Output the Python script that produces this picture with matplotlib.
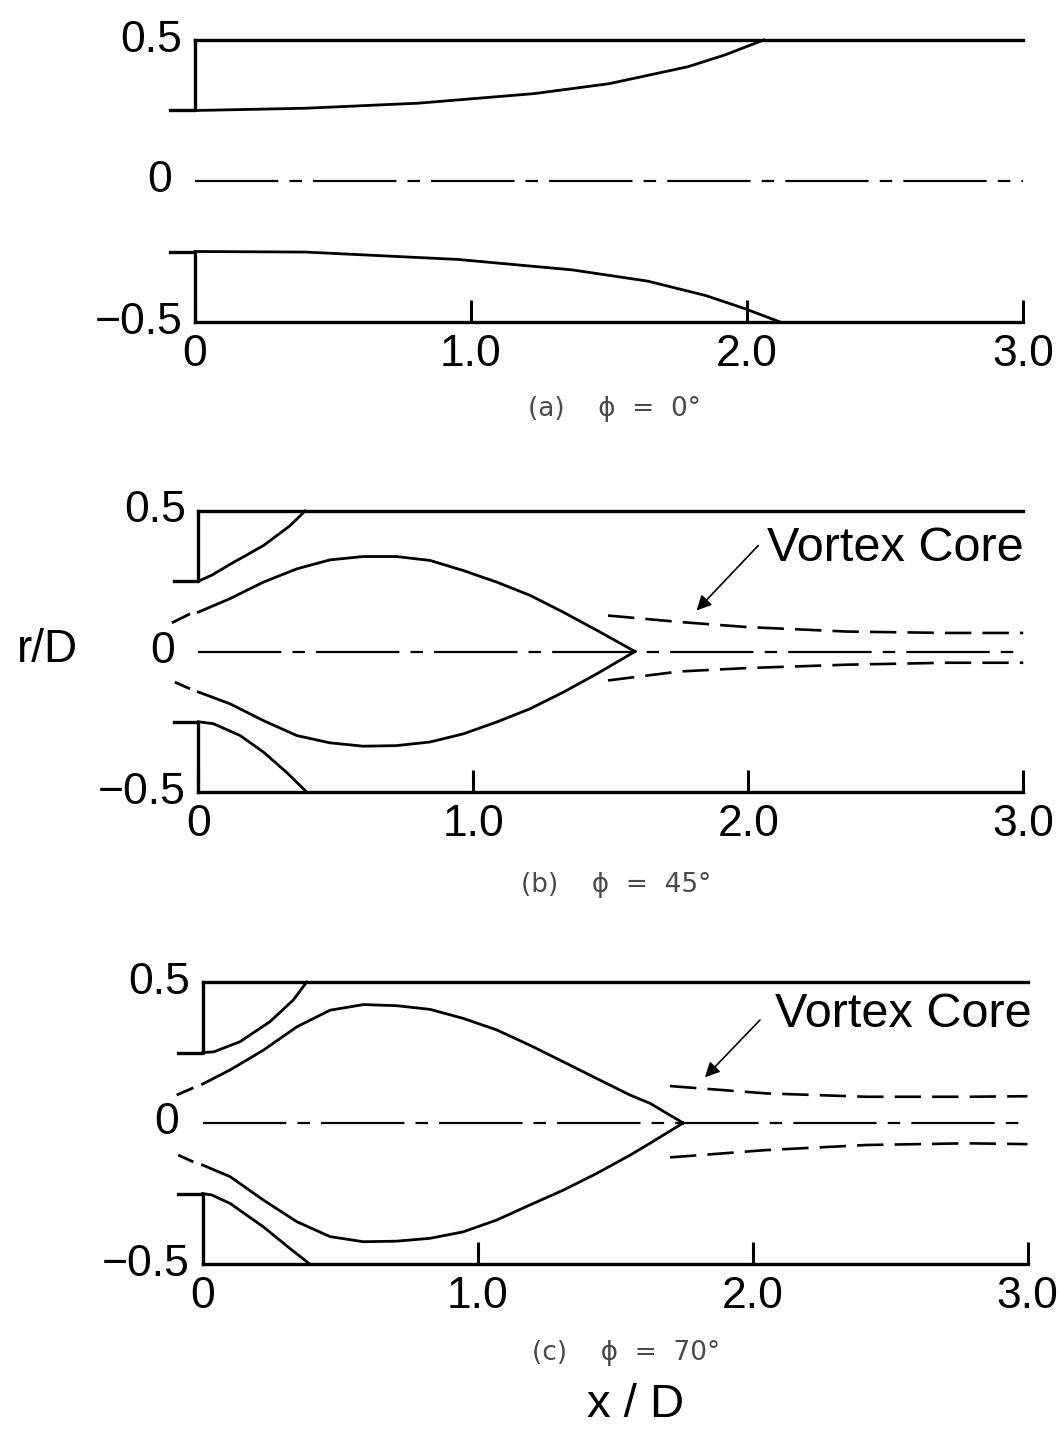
#!/usr/bin/env python

"""
sketch of the shear layers and vortex core behind a nozzle, three jet angles
"""

import matplotlib
matplotlib.use('Agg')
import matplotlib.pyplot as plt

plt.rcParams['font.family'] = ['Liberation Sans', 'DejaVu Sans']
plt.rcParams['lines.scale_dashes'] = False

W, H = 1058, 1431

###### axes ######
X_TICKS = [0.0, 1.0, 2.0, 3.0]
X_TICK_LABELS = ['0', '1.0', '2.0', '3.0']
R_TICKS = [0.5, 0.0, -0.5]
R_TICK_LABELS = ['0.5', '0', '\u22120.5']
AXIS_X = [0.0, 3.0]          # centre line, r = 0
AXIS_R = [0.0, 0.0]

###### nozzle lip (same in all panels) ######
LIP_UP_X = [-0.09, 0.0, 0.0]
LIP_UP_R = [0.25, 0.25, 0.5]
LIP_LO_X = [-0.09, 0.0, 0.0]
LIP_LO_R = [-0.25, -0.25, -0.5]

###### (a) phi = 0 ######
A_UP_X = [0.0, 0.4, 0.81, 1.23, 1.5, 1.785, 1.92, 2.06]
A_UP_R = [0.25, 0.258, 0.276, 0.31, 0.345, 0.405, 0.447, 0.5]
A_LO_X = [0.0, 0.4, 0.95, 1.365, 1.64, 1.85, 1.99, 2.12]
A_LO_R = [-0.25, -0.252, -0.278, -0.315, -0.355, -0.406, -0.452, -0.5]

###### (b) phi = 45 ######
B_OUT_UP_X = [0.0, 0.05, 0.115, 0.237, 0.334, 0.388]
B_OUT_UP_R = [0.25, 0.272, 0.31, 0.377, 0.448, 0.5]
B_OUT_LO_X = [0.0, 0.055, 0.152, 0.237, 0.321, 0.394]
B_OUT_LO_R = [-0.25, -0.257, -0.299, -0.358, -0.43, -0.5]
B_LENS_X = [0.0, 0.115, 0.237, 0.358, 0.478, 0.6, 0.72, 0.843, 0.964, 1.085,
            1.206, 1.327, 1.45, 1.588]
B_LENS_UP_R = [0.14, 0.188, 0.247, 0.294, 0.326, 0.338, 0.338, 0.324, 0.288,
               0.247, 0.2, 0.14, 0.075, 0.0]
B_LENS_LO_R = [-0.144, -0.186, -0.246, -0.299, -0.325, -0.337, -0.335, -0.322,
               -0.293, -0.251, -0.204, -0.145, -0.079, 0.0]
B_LEAD_UP_X = [-0.096, -0.03]
B_LEAD_UP_R = [0.102, 0.134]
B_LEAD_LO_X = [-0.085, -0.03]
B_LEAD_LO_R = [-0.109, -0.133]
B_CORE_X = [1.49, 1.75, 1.995, 2.357, 2.72, 3.0]
B_CORE_UP_R = [0.128, 0.105, 0.087, 0.071, 0.066, 0.066]
B_CORE_LO_R = [-0.103, -0.071, -0.059, -0.047, -0.04, -0.04]

###### (c) phi = 70 ######
C_OUT_UP_X = [0.0, 0.04, 0.136, 0.245, 0.33, 0.379]
C_OUT_UP_R = [0.25, 0.252, 0.288, 0.359, 0.436, 0.5]
C_OUT_LO_X = [0.0, 0.033, 0.1, 0.221, 0.318, 0.39]
C_OUT_LO_R = [-0.25, -0.255, -0.285, -0.368, -0.445, -0.5]
C_LENS_X = [0.0, 0.1, 0.221, 0.343, 0.464, 0.585, 0.706, 0.827, 0.948, 1.07,
            1.19, 1.312, 1.433, 1.555, 1.627, 1.748]
C_LENS_UP_R = [0.138, 0.188, 0.258, 0.341, 0.4, 0.42, 0.416, 0.403, 0.371,
               0.33, 0.276, 0.217, 0.158, 0.099, 0.07, 0.0]
C_LENS_LO_R = [-0.149, -0.19, -0.273, -0.35, -0.403, -0.421, -0.419, -0.409,
               -0.386, -0.344, -0.291, -0.238, -0.179, -0.114, -0.072, 0.0]
C_LEAD_UP_X = [-0.094, -0.033]
C_LEAD_UP_R = [0.099, 0.125]
C_LEAD_LO_X = [-0.088, -0.033]
C_LEAD_LO_R = [-0.114, -0.138]
C_CORE_X = [1.70, 2.05, 2.415, 2.78, 3.0]
C_CORE_UP_R = [0.131, 0.105, 0.093, 0.093, 0.095]
C_CORE_LO_R = [-0.122, -0.096, -0.078, -0.072, -0.075]

CAPTIONS = ['(a)    \u03d5  =  0\u00b0', '(b)    \u03d5  =  45\u00b0',
            '(c)    \u03d5  =  70\u00b0']
CORE_LABEL = 'Vortex Core'

LW_AXIS = 2.4
LW_CURVE = 2.0
CENTRE_DASH = (0, (60, 8, 9, 8))
CORE_DASH = (0, (19, 8))
LABEL_SIZE = 32
CAPTION_FONT = ['DejaVu Sans']


def make_axes(fig, x0, sx, y0, sy):
    """
    axes whose data origin lands on pixel (x0, y0), sx/sy pixels per unit
    """
    xlo, xhi = -0.15, 3.12
    ylo, yhi = -0.56, 0.56
    rect = [(x0 + xlo * sx) / W, 1 - (y0 - ylo * sy) / H,
            (xhi - xlo) * sx / W, (yhi - ylo) * sy / H]
    ax = fig.add_axes(rect)
    ax.set_xlim(xlo, xhi)
    ax.set_ylim(ylo, yhi)
    ax.patch.set_alpha(0)
    for side in ('left', 'right'):
        ax.spines[side].set_visible(False)
    ax.spines['top'].set_position(('data', 0.5))
    ax.spines['bottom'].set_position(('data', -0.5))
    for side in ('top', 'bottom'):
        ax.spines[side].set_bounds(0.0, 3.0)
        ax.spines[side].set_linewidth(LW_AXIS)
    ax.xaxis.set_ticks_position('bottom')
    ax.set_xticks(X_TICKS, X_TICK_LABELS)
    ax.tick_params(axis='x', direction='in', length=16, width=2.2, pad=9,
                   labelsize=LABEL_SIZE)
    ax.set_yticks([])
    # r labels, the 0 sits a bit further left than the other two
    for r, lab in zip(R_TICKS, R_TICK_LABELS):
        xl = -0.085 if r == 0 else -0.045
        ax.text(xl, r, lab, ha='right', va='center', fontsize=LABEL_SIZE)

    ax.plot(LIP_UP_X, LIP_UP_R, color='k', lw=LW_AXIS)
    ax.plot(LIP_LO_X, LIP_LO_R, color='k', lw=LW_AXIS)
    ax.plot(AXIS_X, AXIS_R, color='k', lw=1.6, ls=CENTRE_DASH)
    return ax


def caption(ax, x, y, s):
    ax.text(x, y, s, ha='center', va='center', fontsize=19, color='#4a4a4a',
            family=CAPTION_FONT)


def draw_lens(ax, out_up, out_lo, lens_x, lens_up, lens_lo, leads, core_x,
              core_up, core_lo, text_xy, arrow_from, arrow_to):
    """
    separated region, vortex core and its label
    """
    ax.plot(*out_up, color='k', lw=LW_CURVE)
    ax.plot(*out_lo, color='k', lw=LW_CURVE)
    ax.plot(lens_x, lens_up, color='k', lw=LW_CURVE)
    ax.plot(lens_x, lens_lo, color='k', lw=LW_CURVE)
    for lx, lr in leads:
        ax.plot(lx, lr, color='k', lw=LW_CURVE, solid_capstyle='butt')
    ax.plot(core_x, core_up, color='k', lw=1.9, ls=CORE_DASH)
    ax.plot(core_x, core_lo, color='k', lw=1.9, ls=CORE_DASH)
    ax.text(text_xy[0], text_xy[1], CORE_LABEL, ha='left', va='center',
            fontsize=35)
    ax.annotate('', xy=arrow_to, xytext=arrow_from,
                arrowprops=dict(arrowstyle='-|>', color='k', lw=1.2,
                                mutation_scale=22, shrinkA=0, shrinkB=0))


def main():
    fig = plt.figure(figsize=(W / 100, H / 100), dpi=100)
    fig.patch.set_facecolor('white')

    ###### (a) ######
    ax = make_axes(fig, 195, 276, 181, 282)
    ax.plot(A_UP_X, A_UP_R, color='k', lw=LW_CURVE)
    ax.plot(A_LO_X, A_LO_R, color='k', lw=LW_CURVE)
    caption(ax, 1.52, -0.81, CAPTIONS[0])

    ###### (b) ######
    ax = make_axes(fig, 198.3, 275, 651.5, 281)
    draw_lens(ax, (B_OUT_UP_X, B_OUT_UP_R), (B_OUT_LO_X, B_OUT_LO_R),
              B_LENS_X, B_LENS_UP_R, B_LENS_LO_R,
              [(B_LEAD_UP_X, B_LEAD_UP_R), (B_LEAD_LO_X, B_LEAD_LO_R)],
              B_CORE_X, B_CORE_UP_R, B_CORE_LO_R,
              (2.067, 0.367), (2.036, 0.377), (1.812, 0.146))
    caption(ax, 1.52, -0.83, CAPTIONS[1])

    ###### (c) ######
    ax = make_axes(fig, 202.5, 275, 1123, 282)
    draw_lens(ax, (C_OUT_UP_X, C_OUT_UP_R), (C_OUT_LO_X, C_OUT_LO_R),
              C_LENS_X, C_LENS_UP_R, C_LENS_LO_R,
              [(C_LEAD_UP_X, C_LEAD_UP_R), (C_LEAD_LO_X, C_LEAD_LO_R)],
              C_CORE_X, C_CORE_UP_R, C_CORE_LO_R,
              (2.082, 0.383), (2.027, 0.365), (1.827, 0.162))
    caption(ax, 1.54, -0.815, CAPTIONS[2])

    fig.text(47 / W, 1 - 650 / H, 'r/D', ha='center', va='center', fontsize=33)
    fig.text(636 / W, 1 - 1405 / H, 'x / D', ha='center', va='center',
             fontsize=34)

    fig.savefig('out.png', dpi=100, facecolor='white')


if __name__ == "__main__":
    main()
